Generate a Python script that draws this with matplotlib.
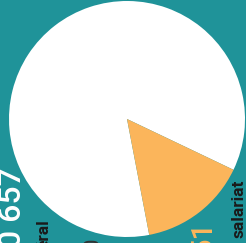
import matplotlib.pyplot as plt

plt.rcParams["font.family"] = ["Roboto", "DejaVu Sans"]

# shares of the pie
labels = ["général", "salariat"]
shares = [85.1, 14.9]
colors = ["#ffffff", "#fbb55b"]

bg = "#1f9399"

fig = plt.figure(figsize=(2.46, 2.43), dpi=100)
fig.patch.set_facecolor(bg)
ax = fig.add_axes([0, 0, 1, 1])
ax.set_facecolor(bg)

ax.pie(
    shares,
    colors=colors,
    startangle=-25.5,
    counterclock=True,
    center=(127, 124),
    radius=118,
    frame=False,
    wedgeprops={"linewidth": 0},
)
ax.set_xlim(0, 246)
ax.set_ylim(0, 243)
ax.set_aspect("auto")
ax.axis("off")

# rotated labels, cut by the figure edge
ax.text(12.5, -5, "0 657", rotation=90, ha="center", va="bottom",
        fontsize=23, fontweight="medium", color="white")
ax.text(44, 24, "éral", rotation=90, ha="center", va="top",
        fontsize=12.5, fontweight="bold", color="#1a1a1a")
ax.text(93, -7, "0", rotation=90, ha="center", va="bottom",
        fontsize=16, color="#333333")
ax.text(203, -11, "51", rotation=90, ha="center", va="bottom",
        fontsize=21, fontweight="medium", color="#fbb55b")
ax.text(238.5, 34.5, "salariat", rotation=90, ha="center", va="center",
        fontsize=12.5, fontweight="bold", color="#1a1a1a")

fig.savefig("out.png", dpi=100, facecolor=bg)
